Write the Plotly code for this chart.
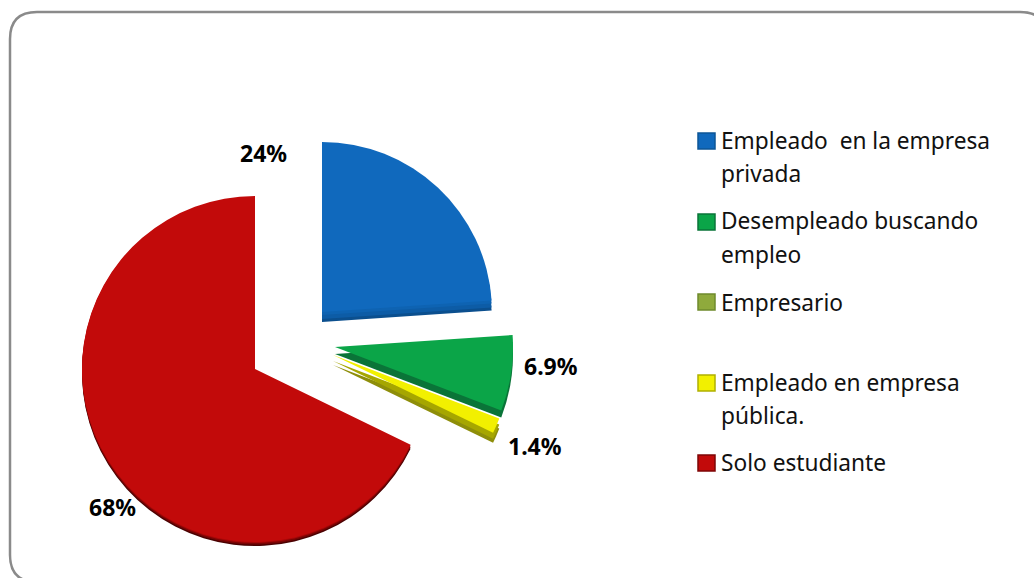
import plotly.graph_objects as go

W, H = 1034, 578

# Survey shares and the labels printed beside each wedge
categories = ["Empleado  en la empresa privada", "Desempleado buscando empleo",
              "Empresario", "Empleado en empresa pública.", "Solo estudiante"]
values = [24, 6.9, 0, 1.4, 68]
value_labels = ["24%", "6.9%", "", "1.4%", "68%"]

face_colors = ["#1069BD", "#0BA548", "#8FAA3C", "#F2F000", "#C20A0A"]
swatch_edges = ["#0C5596", "#0A7438", "#6F8A2C", "#B0B000", "#7E0606"]

# Wedge placement in pixels: centre x, centre y, radius
wedge_geom = {0: (322, 312, 170), 1: (335, 347, 178), 3: (333, 355, 178), 4: (255, 369, 173)}

# Side wall of each wedge, deepest layer first: (downward offset, colour)
wedge_walls = {
    0: [(10, "#0B4F8E"), (7, "#0D5CA6"), (3, "#0E63B2")],
    1: [(7, "#0A7438")],
    3: [(10, "#8E8E0A"), (6, "#A6A600")],
    4: [(4, "#4A0202"), (2.5, "#7A0404"), (1, "#A60808")],
}

# Painted back to front so the green wall sits over the yellow wedge
draw_order = [4, 0, 3, 1]

label_pos = [(263, 153), (551, 366), None, (535, 446), (112, 507)]

legend_lines = [("Empleado  en la empresa", 141), ("privada", 173),
                ("Desempleado buscando", 221), ("empleo", 254),
                ("Empresario", 302),
                ("Empleado en empresa", 382), ("pública.", 415),
                ("Solo estudiante", 463)]
swatch_y = [141, 222, 302, 383, 463]

FONT = "Noto Sans"


def px(x):
    return x / W


def py(y):
    return 1 - y / H


fig = go.Figure()


def add_wedge(index, color, dy):
    """One pie trace that paints only the wedge at `index`, placed by its domain."""
    cx, cy, r = wedge_geom[index]
    colors = ["rgba(0,0,0,0)"] * len(values)
    colors[index] = color
    fig.add_trace(go.Pie(
        values=values, labels=categories, sort=False, direction="clockwise",
        rotation=0, textinfo="none", hoverinfo="skip", showlegend=False,
        marker=dict(colors=colors, line=dict(width=0)),
        domain=dict(x=[px(cx - r), px(cx + r)],
                    y=[py(cy + dy + r), py(cy + dy - r)]),
    ))


for i in draw_order:
    for depth, wall_color in wedge_walls[i]:
        add_wedge(i, wall_color, depth)
    add_wedge(i, face_colors[i], 0)

annotations = []
for text, pos in zip(value_labels, label_pos):
    if pos:
        annotations.append(dict(
            x=px(pos[0]), y=py(pos[1]), xref="paper", yref="paper",
            text=f"<b>{text}</b>", showarrow=False, xanchor="center", yanchor="middle",
            font=dict(family=FONT, size=23, color="#000000")))

for text, y in legend_lines:
    annotations.append(dict(
        x=px(720), y=py(y), xref="paper", yref="paper", text=text, showarrow=False,
        xanchor="left", yanchor="middle", borderpad=0,
        font=dict(family=FONT, size=22.7, color="#111111")))

# Rounded frame; its right and bottom sides run past the page edge
L, T, R, B, C = 10, 12, 1047, 582, 27
frame = (f"M {px(L)} {py(T + C)} Q {px(L)} {py(T)} {px(L + C)} {py(T)} "
         f"L {px(R - C)} {py(T)} Q {px(R)} {py(T)} {px(R)} {py(T + C)} "
         f"L {px(R)} {py(B - C)} Q {px(R)} {py(B)} {px(R - C)} {py(B)} "
         f"L {px(L + C)} {py(B)} Q {px(L)} {py(B)} {px(L)} {py(B - C)} Z")
shapes = [dict(type="path", xref="paper", yref="paper", path=frame,
               line=dict(color="#8A8A8A", width=2.5), fillcolor="rgba(0,0,0,0)")]

for color, edge, y in zip(face_colors, swatch_edges, swatch_y):
    shapes.append(dict(type="rect", xref="paper", yref="paper",
                       x0=px(698), x1=px(715), y0=py(y - 8), y1=py(y + 8),
                       fillcolor=color, line=dict(color=edge, width=1.5)))

fig.update_layout(width=W, height=H, margin=dict(l=0, r=0, t=0, b=0),
                  paper_bgcolor="#FFFFFF", plot_bgcolor="#FFFFFF",
                  annotations=annotations, shapes=shapes, showlegend=False)

fig.write_html("out.html", config=dict(displayModeBar=False))
